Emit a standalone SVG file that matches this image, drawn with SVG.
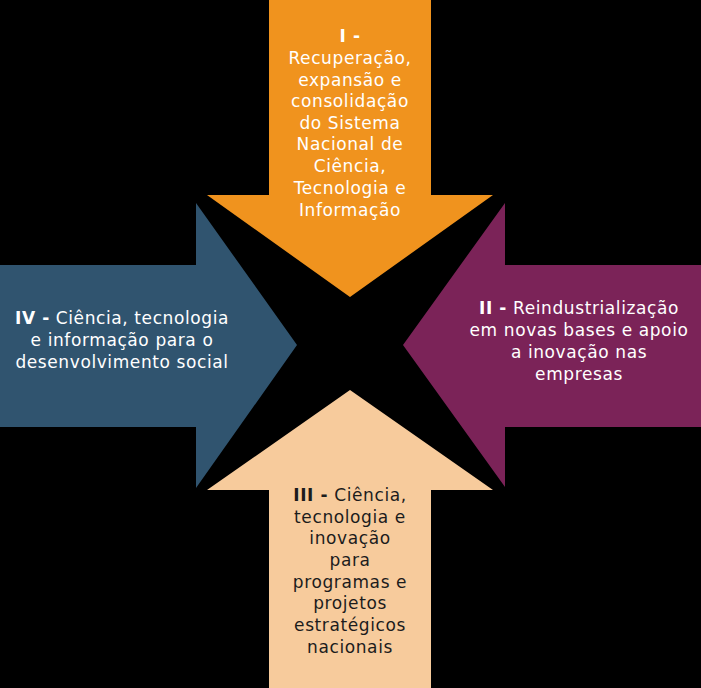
<svg xmlns="http://www.w3.org/2000/svg" width="701" height="688" viewBox="0 0 701 688">
<style>
text{font-family:"DejaVu Sans","Liberation Sans",sans-serif;font-size:17px;letter-spacing:0.6px;text-anchor:middle}
.w{fill:#ffffff}
.d{fill:#1c1c1c}
.b{font-weight:bold}
</style>
<rect width="701" height="688" fill="#000000"/>
<g id="arrow-top">
<polygon points="269,0 431,0 431,195 493,195 350,297 207,195 269,195" fill="#F0931E"/>
<text class="w"><tspan x="350" y="42" class="b">I -</tspan><tspan x="350" y="64">Recuperação,</tspan><tspan x="350" y="86">expansão e</tspan><tspan x="350" y="107">consolidação</tspan><tspan x="350" y="129">do Sistema</tspan><tspan x="350" y="150">Nacional de</tspan><tspan x="350" y="172">Ciência,</tspan><tspan x="350" y="194">Tecnologia e</tspan><tspan x="350" y="216">Informação</tspan></text>
</g>
<g id="arrow-left">
<polygon points="0,265 196,265 196,203 297,345 196,488 196,427 0,427" fill="#30546F"/>
<text class="w"><tspan x="122" y="324"><tspan class="b">IV -</tspan> Ciência, tecnologia</tspan><tspan x="122" y="346">e informação para o</tspan><tspan x="122" y="368">desenvolvimento social</tspan></text>
</g>
<g id="arrow-right">
<polygon points="701,265 505,265 505,203 403,345 505,487 505,427 701,427" fill="#7B2358"/>
<text class="w"><tspan x="579" y="314"><tspan class="b">II -</tspan> Reindustrialização</tspan><tspan x="579" y="336">em novas bases e apoio</tspan><tspan x="579" y="358">a inovação nas</tspan><tspan x="579" y="380">empresas</tspan></text>
</g>
<g id="arrow-bottom">
<polygon points="269,688 431,688 431,490 493,490 350,390 207,490 269,490" fill="#F7CB9C"/>
<text class="d"><tspan x="350" y="501"><tspan class="b">III -</tspan> Ciência,</tspan><tspan x="350" y="523">tecnologia e</tspan><tspan x="350" y="544">inovação</tspan><tspan x="350" y="566">para</tspan><tspan x="350" y="588">programas e</tspan><tspan x="350" y="609">projetos</tspan><tspan x="350" y="631">estratégicos</tspan><tspan x="350" y="653">nacionais</tspan></text>
</g>
<g id="connectors"></g>
</svg>
